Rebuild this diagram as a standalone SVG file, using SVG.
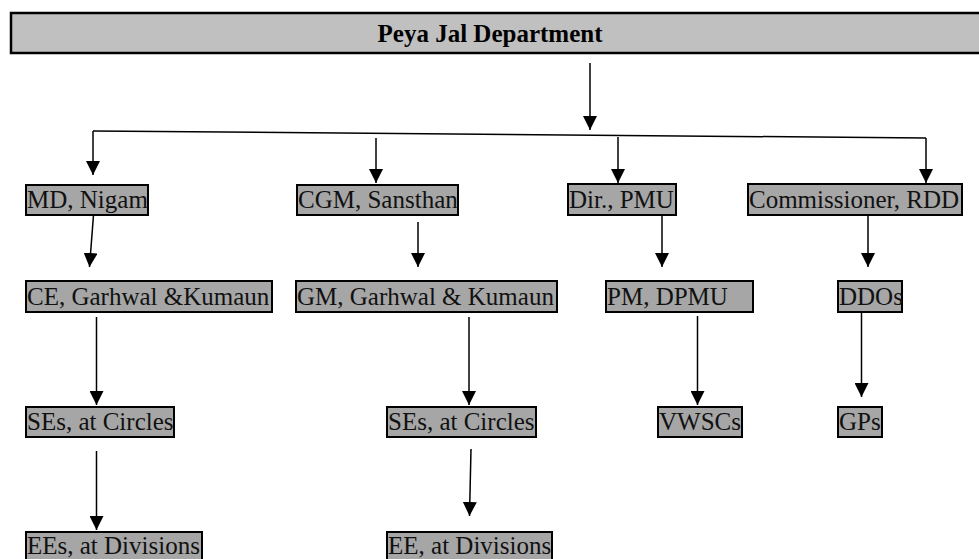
<svg xmlns="http://www.w3.org/2000/svg" width="979" height="559" viewBox="0 0 979 559">
<defs>
<marker id="ah" markerUnits="userSpaceOnUse" markerWidth="14" markerHeight="14" refX="14" refY="7" orient="auto" viewBox="0 0 14 14">
<path d="M0,0 L14,7 L0,14 z" fill="#000"/>
</marker>
</defs>
<style>
.box{fill:#a6a6a6;stroke:#000;stroke-width:2}
.title{fill:#c0c0c0;stroke:#000;stroke-width:2.5}
.t{font-family:"Liberation Serif","Times New Roman",serif;font-size:25px;fill:#111}
.tt{font-family:"Liberation Serif","Times New Roman",serif;font-size:25px;font-weight:bold;fill:#000}
.c{stroke:#000;stroke-width:1.5;fill:none}
.a{stroke:#000;stroke-width:1.5;fill:none;marker-end:url(#ah)}
</style>
<rect width="979" height="559" fill="#fff"/>
<g id="connectors">
<line class="a" x1="590" y1="63" x2="590" y2="130"/>
<line class="c" x1="93" y1="131" x2="926" y2="138"/>
<line class="a" x1="93" y1="131" x2="93" y2="175"/>
<line class="a" x1="376" y1="138" x2="376" y2="183"/>
<line class="a" x1="618" y1="137" x2="618" y2="183"/>
<line class="a" x1="926" y1="138" x2="926" y2="183"/>
<line class="a" x1="93.5" y1="215" x2="89.5" y2="267"/>
<line class="a" x1="418" y1="222" x2="418" y2="267"/>
<line class="a" x1="662" y1="207" x2="662" y2="267"/>
<line class="a" x1="868" y1="216" x2="868" y2="267"/>
<line class="a" x1="96.5" y1="317" x2="96.5" y2="405"/>
<line class="a" x1="469" y1="317" x2="469" y2="405"/>
<line class="a" x1="697.5" y1="316" x2="697.5" y2="405"/>
<line class="a" x1="861.5" y1="310" x2="861.5" y2="397"/>
<line class="a" x1="96.5" y1="451" x2="96.5" y2="530"/>
<line class="a" x1="471" y1="449" x2="469.5" y2="516"/>
</g>
<g id="title">
<rect class="title" x="11" y="13" width="975" height="40"/>
<text class="tt" x="490" y="42" text-anchor="middle">Peya Jal Department</text>
</g>
<g id="md">
<rect class="box" x="26" y="185" width="122" height="30"/>
<text class="t" x="27" y="208">MD, Nigam</text>
</g>
<g id="cgm">
<rect class="box" x="297" y="185" width="161" height="30"/>
<text class="t" x="298" y="208">CGM, Sansthan</text>
</g>
<g id="dir">
<rect class="box" x="568" y="184" width="108" height="31"/>
<text class="t" x="569" y="208">Dir., PMU</text>
</g>
<g id="comm">
<rect class="box" x="748" y="184" width="214" height="31"/>
<text class="t" x="749" y="208">Commissioner, RDD</text>
</g>
<g id="ce">
<rect class="box" x="26" y="281" width="246" height="31"/>
<text class="t" x="27" y="305">CE, Garhwal &amp;Kumaun</text>
</g>
<g id="gm">
<rect class="box" x="296" y="281" width="261" height="31"/>
<text class="t" x="297" y="305">GM, Garhwal &amp; Kumaun</text>
</g>
<g id="pm">
<rect class="box" x="606" y="281" width="147" height="31"/>
<text class="t" x="607" y="305">PM, DPMU</text>
</g>
<g id="ddo">
<rect class="box" x="838" y="281" width="64" height="31"/>
<text class="t" x="839" y="305">DDOs</text>
</g>
<g id="se1">
<rect class="box" x="26" y="407" width="148" height="30"/>
<text class="t" x="27" y="430">SEs, at Circles</text>
</g>
<g id="se2">
<rect class="box" x="387" y="407" width="149" height="30"/>
<text class="t" x="388" y="430">SEs, at Circles</text>
</g>
<g id="vwsc">
<rect class="box" x="658" y="407" width="84" height="30"/>
<text class="t" x="659" y="430">VWSCs</text>
</g>
<g id="gp">
<rect class="box" x="838" y="407" width="44" height="30"/>
<text class="t" x="839" y="430">GPs</text>
</g>
<g id="ee1">
<rect class="box" x="26" y="532" width="176" height="30"/>
<text class="t" x="27" y="554">EEs, at Divisions</text>
</g>
<g id="ee2">
<rect class="box" x="387" y="532" width="165" height="30"/>
<text class="t" x="388" y="554">EE, at Divisions</text>
</g>
</svg>
